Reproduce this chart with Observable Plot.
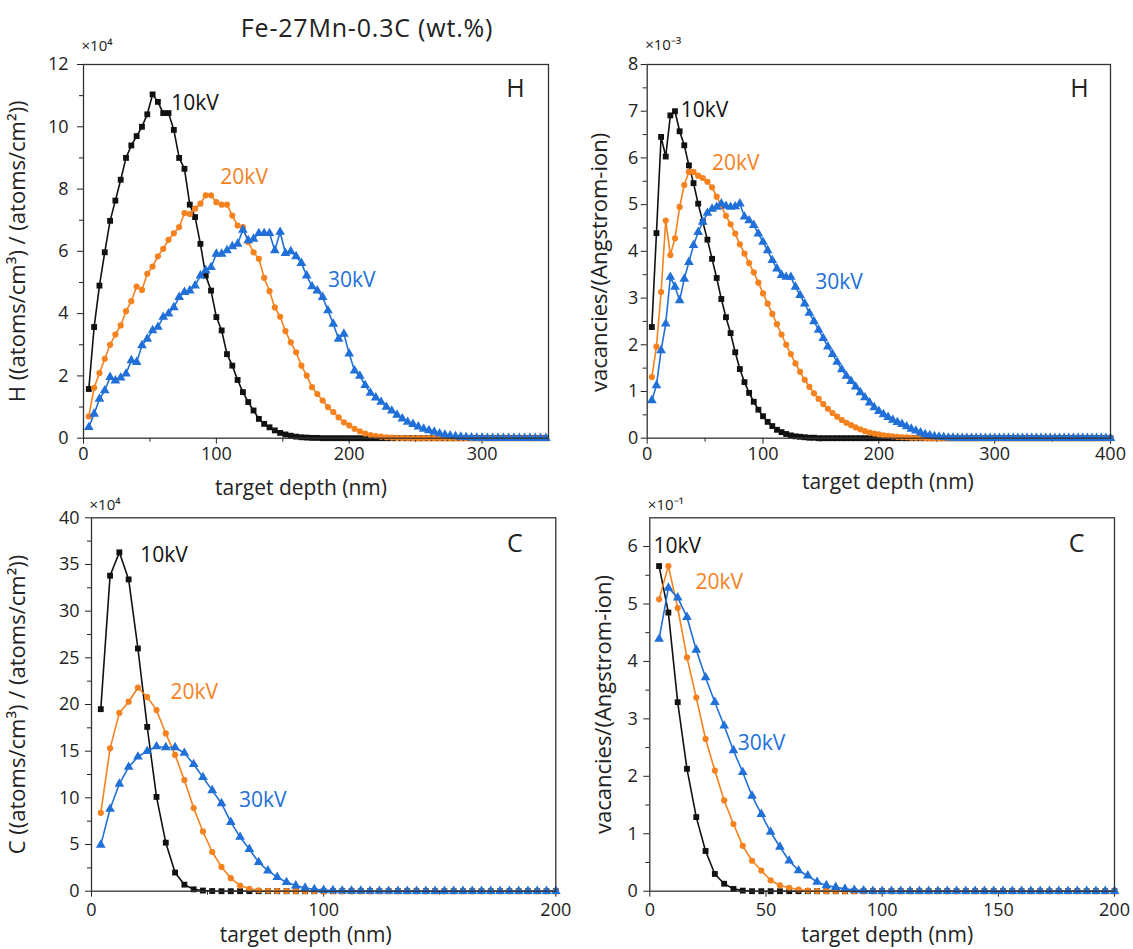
<!DOCTYPE html>
<html><head><meta charset="utf-8">
<script src="https://cdn.jsdelivr.net/npm/d3@7"></script>
<script src="https://cdn.jsdelivr.net/npm/@observablehq/plot@0.6"></script>
<style>
body{margin:0;background:#fff;}
#wrap{position:relative;width:1133px;height:949px;font-family:"Open Sans",sans-serif;overflow:hidden;}
#title{position:absolute;left:0;top:13px;width:734px;text-align:center;font-size:25px;line-height:28px;color:#222;letter-spacing:0.8px;}
.panel{position:absolute;}
</style></head><body>
<div id="wrap"><div id="title">Fe-27Mn-0.3C (wt.%)</div></div>
<script>
// ---- data ----
const seriesNames = ["10kV","20kV","30kV"];
const seriesColors = ["#111111","#f5821f","#2170d8"];
const seriesSymbols = ["square","circle","triangle"];

const depth = [4,8,12,16,20,24,28,32,36,40,44,48,52,56,60,64,68,72,76,80,84,88,92,96,100,
104,108,112,116,120,124,128,132,136,140,144,148,152,156,160,164,168,172,176,180,184,188,192,196,200,
204,208,212,216,220,224,228,232,236,240,244,248,252,256,260,264,268,272,276,280,284,288,292,296,300,
304,308,312,316,320,324,328,332,336,340,344,348,352,356,360,364,368,372,376,380,384,388,392,396,400];

// H implanted concentration (x10^4), depth 4..348 nm
const hConc10 = [1.58,3.57,4.9,5.97,6.98,7.63,8.3,9.0,9.4,9.7,
10.0,10.4,11.04,10.8,10.44,10.44,9.9,9.0,8.65,7.5,
7.1,6.24,5.22,4.74,3.89,3.46,2.7,2.33,1.87,1.48,
1.16,0.89,0.62,0.46,0.35,0.25,0.17,0.12,0.08,0.05,
0.03,0.02,0.01,0.01,0,0,0,0,0,0,
0,0,0,0,0,0,0,0,0,0, 0,0,0,0,0,0,0,0,0,0, 0,0,0,0,0,0,0,0,0,0,
0,0,0,0,0,0,0];
const hConc20 = [0.7,1.62,2.09,2.55,3.0,3.33,3.62,4.08,4.4,4.87,
4.76,5.28,5.51,5.84,6.08,6.37,6.58,6.78,7.23,7.2,
7.37,7.53,7.8,7.8,7.58,7.5,7.5,7.15,6.83,6.78,
6.3,5.97,5.76,5.15,4.72,4.2,3.9,3.44,3.08,2.76,
2.33,2.01,1.64,1.42,1.21,1.0,0.84,0.67,0.51,0.41,
0.3,0.22,0.15,0.1,0.07,0.05,0.03,0.02,0.01,0.01,
0,0,0,0,0,0,0,0,0,0, 0,0,0,0,0,0,0,0,0,0,
0,0,0,0,0,0,0];
const hConc30 = [0.35,0.78,1.26,1.53,1.96,1.85,1.94,2.07,2.5,2.44,
2.98,3.19,3.46,3.57,3.89,4.0,4.2,4.53,4.69,4.74,
4.9,5.22,5.39,5.49,5.92,5.92,6.03,6.16,6.24,6.69,
6.35,6.4,6.58,6.58,6.58,6.03,6.62,5.94,6.0,5.84,
5.62,5.22,4.87,4.74,4.53,4.1,3.67,3.19,3.35,2.71,
2.17,2.0,1.7,1.45,1.3,1.16,1.0,0.88,0.75,0.63,
0.52,0.45,0.37,0.3,0.25,0.2,0.15,0.11,0.08,0.06,
0.04,0.03,0.02,0.01,0.01,0,0,0,0,0,
0,0,0,0,0,0,0];

// H vacancies (x10^-3), depth 4..400 nm
const hVac10 = [2.38,4.39,6.45,6.03,6.91,7.0,6.57,6.27,5.84,5.46,
5.02,4.63,4.25,3.84,3.43,2.98,2.59,2.25,1.84,1.48,
1.2,0.97,0.78,0.61,0.47,0.35,0.26,0.18,0.13,0.09,
0.06,0.04,0.03,0.02,0.01,0.01,0,0,0,0,
0,0,0,0,0,0,0,0,0,0, 0,0,0,0,0,0,0,0,0,0, 0,0,0,0,0,0,0,0,0,0,
0,0,0,0,0,0,0,0,0,0, 0,0,0,0,0,0,0,0,0,0, 0,0,0,0,0,0,0,0,0,0];
const hVac20 = [1.31,1.96,3.13,4.66,3.92,4.28,4.95,5.42,5.7,5.7,
5.62,5.57,5.49,5.37,5.17,4.97,4.76,4.58,4.38,4.15,
3.95,3.75,3.55,3.33,3.1,2.88,2.66,2.44,2.22,2.0,
1.8,1.6,1.42,1.25,1.1,0.96,0.84,0.73,0.63,0.54,
0.46,0.39,0.33,0.28,0.23,0.19,0.15,0.12,0.1,0.08,
0.06,0.05,0.04,0.03,0.02,0.02,0.01,0.01,0.01,0,
0,0,0,0,0,0,0,0,0,0, 0,0,0,0,0,0,0,0,0,0, 0,0,0,0,0,0,0,0,0,0,
0,0,0,0,0,0,0,0,0,0];
const hVac30 = [0.81,1.13,1.88,2.45,3.45,3.24,2.95,3.41,3.77,4.13,
4.41,4.63,4.82,4.91,4.95,5.02,4.97,4.95,4.96,5.02,
4.74,4.66,4.56,4.38,4.2,4.02,3.81,3.63,3.49,3.45,
3.45,3.24,3.06,2.88,2.68,2.5,2.32,2.14,1.96,1.8,
1.63,1.47,1.33,1.22,1.1,0.98,0.87,0.76,0.66,0.58,
0.51,0.45,0.39,0.34,0.3,0.25,0.2,0.16,0.12,0.08,
0.06,0.04,0.03,0.02,0.01,0.01,0,0,0,0,
0,0,0,0,0,0,0,0,0,0, 0,0,0,0,0,0,0,0,0,0, 0,0,0,0,0,0,0,0,0,0];

// C implanted concentration (x10^4), depth 4..200 nm
const cConc10 = [19.5,33.8,36.3,33.4,26.0,17.6,10.1,5.2,2.0,0.7,
0.2,0.07,0.02,0,0,0,0,0,0,0,
0,0,0,0,0,0,0,0,0,0, 0,0,0,0,0,0,0,0,0,0, 0,0,0,0,0,0,0,0,0,0];
const cConc20 = [8.4,15.3,19.1,20.3,21.8,20.8,19.4,16.9,14.6,11.9,
8.9,6.4,4.2,2.6,1.4,0.6,0.25,0.1,0.05,0.02,
0,0,0,0,0,0,0,0,0,0, 0,0,0,0,0,0,0,0,0,0, 0,0,0,0,0,0,0,0,0,0];
const cConc30 = [4.96,8.8,11.5,13.3,14.4,15.0,15.5,15.4,15.4,14.8,
13.6,12.2,10.8,9.4,7.4,5.8,4.5,3.1,2.2,1.5,
0.96,0.6,0.35,0.2,0.12,0.08,0.05,0.04,0.03,0.02,
0.02,0.02,0.01,0.01,0.01,0.01,0.01,0.01,0.01,0.01,
0,0,0,0,0,0,0,0,0,0];

// C vacancies (x10^-1), depth 4..200 nm
const cVac10 = [5.66,4.85,3.29,2.13,1.29,0.7,0.3,0.13,0.04,0.01,
0,0,0,0,0,0,0,0,0,0, 0,0,0,0,0,0,0,0,0,0, 0,0,0,0,0,0,0,0,0,0, 0,0,0,0,0,0,0,0,0,0];
const cVac20 = [5.08,5.66,4.93,4.07,3.37,2.65,2.1,1.58,1.17,0.79,
0.53,0.36,0.19,0.1,0.06,0.03,0.01,0,0,0,
0,0,0,0,0,0,0,0,0,0, 0,0,0,0,0,0,0,0,0,0, 0,0,0,0,0,0,0,0,0,0];
const cVac30 = [4.39,5.28,5.11,4.77,4.2,3.72,3.29,2.88,2.45,2.07,
1.66,1.34,1.03,0.77,0.53,0.36,0.27,0.16,0.1,0.07,
0.04,0.02,0.01,0,0,0,0,0,0,0,
0,0,0,0,0,0,0,0,0,0, 0,0,0,0,0,0,0,0,0,0];

// tick values
const xTicksH1 = [0,100,200,300], xMinorH1 = [50,150,250];
const xTicksH2 = [0,100,200,300,400], xMinorH2 = [50,150,250,350];
const xTicksC1 = [0,100,200], xMinorC1 = [50,150];
const xTicksC2 = [0,50,100,150,200], xMinorC2 = [];
const yTicksH1 = [0,2,4,6,8,10,12], yMinorH1 = [1,3,5,7,9,11];
const yTicksH2 = [0,1,2,3,4,5,6,7,8], yMinorH2 = [0.5,1.5,2.5,3.5,4.5,5.5,6.5,7.5];
const yTicksC1 = [0,5,10,15,20,25,30,35,40], yMinorC1 = [2.5,7.5,12.5,17.5,22.5,27.5,32.5,37.5];
const yTicksC2 = [0,1,2,3,4,5,6], yMinorC2 = [0.5,1.5,2.5,3.5,4.5,5.5];

// text
const titleText = "Fe-27Mn-0.3C (wt.%)";
const xLabel = "target depth (nm)";
const yLabelH = "H ((atoms/cm³) / (atoms/cm²))";
const yLabelC = "C ((atoms/cm³) / (atoms/cm²))";
const yLabelVac = "vacancies/(Angstrom-ion)";

// series label anchor positions (data units)
const labelsH1 = [{t:"10kV",x:66,y:10.75},{t:"20kV",x:103,y:8.38},{t:"30kV",x:184,y:5.07}];
const labelsH2 = [{t:"10kV",x:29,y:7.02},{t:"20kV",x:56,y:5.88},{t:"30kV",x:145,y:3.33}];
const labelsC1 = [{t:"10kV",x:21,y:36},{t:"20kV",x:34,y:21.3},{t:"30kV",x:63.5,y:9.7}];
const labelsC2 = [{t:"10kV",x:1.6,y:6.01},{t:"20kV",x:19.7,y:5.37},{t:"30kV",x:37.8,y:2.57}];

const FONT = "'Open Sans', sans-serif";

function panel(cfg) {
  const marks = [];
  marks.push(Plot.axisX({ticks: cfg.xMinor, tickSize: 4, tickFormat: () => "", label: null}));
  marks.push(Plot.axisX({ticks: cfg.xTicks, tickSize: 6, tickPadding: cfg.xPad, tickFormat: d => String(d), label: null}));
  marks.push(Plot.axisY({ticks: cfg.yMinor, tickSize: 4, tickFormat: () => "", label: null}));
  marks.push(Plot.axisY({ticks: cfg.yTicks, tickSize: 6, tickPadding: cfg.yPad, tickFormat: d => String(d), label: null}));
  cfg.series.forEach((vals, si) => {
    const rows = vals.map((v, i) => ({depth: depth[i], value: v}));
    marks.push(Plot.line(rows, {x: "depth", y: "value", stroke: seriesColors[si], strokeWidth: 1.6}));
    marks.push(Plot.dot(rows, {x: "depth", y: "value", symbol: seriesSymbols[si], fill: seriesColors[si], stroke: "none", r: si === 2 ? 3.6 : (si === 0 ? 3.3 : 3.1)}));
  });
  marks.push(Plot.frame({stroke: "#333", strokeWidth: 1.3}));
  marks.push(Plot.text(cfg.labels, {x: "x", y: "y", text: "t", fill: d => seriesColors[seriesNames.indexOf(d.t)], textAnchor: "start", lineAnchor: "middle", fontSize: 21}));
  marks.push(Plot.text([cfg.letter], {frameAnchor: "top-right", text: d => d, textAnchor: "middle", lineAnchor: "middle", dx: cfg.letterDx, dy: cfg.letterDy, fontSize: 25, fill: "#222"}));
  marks.push(Plot.text([cfg.mult], {frameAnchor: "top-left", text: d => d, textAnchor: "start", lineAnchor: "middle", dx: -2, dy: cfg.multDy, fontSize: 15, fill: "#222"}));
  marks.push(Plot.text([xLabel], {frameAnchor: "bottom", text: d => d, textAnchor: "middle", lineAnchor: "middle", dx: cfg.xlDx, dy: cfg.xlDy, fontSize: 21, fill: "#222"}));
  marks.push(Plot.text([cfg.yLabel], {frameAnchor: "left", text: d => d, rotate: -90, textAnchor: "middle", lineAnchor: "middle", dx: cfg.ylDx, dy: cfg.ylDy, fontSize: 22, fill: "#222"}));

  const chart = Plot.plot({
    width: cfg.width, height: cfg.height,
    marginLeft: cfg.ml, marginRight: cfg.mr, marginTop: cfg.mt, marginBottom: cfg.mb,
    x: {domain: cfg.xDomain},
    y: {domain: cfg.yDomain},
    clip: false,
    style: {fontSize: "18px", fontFamily: FONT, color: "#222", background: "transparent", overflow: "visible"},
    marks
  });
  const div = document.createElement("div");
  div.className = "panel";
  div.style.left = cfg.left + "px";
  div.style.top = cfg.top + "px";
  div.appendChild(chart);
  document.getElementById("wrap").appendChild(div);
}

// top-left: H concentration
panel({left: 0, top: 0, width: 568, height: 508, ml: 83, mr: 20, mt: 64, mb: 70.3,
  xDomain: [0, 350], yDomain: [0, 12], xTicks: xTicksH1, xMinor: xMinorH1, yTicks: yTicksH1, yMinor: yMinorH1,
  xPad: 3, yPad: 9, series: [hConc10, hConc20, hConc30], labels: labelsH1,
  letter: "H", letterDx: -33, letterDy: 24, mult: "×10⁴", multDy: -18,
  xlDx: -15, xlDy: 50, yLabel: yLabelH, ylDx: -66, ylDy: 0});

// top-right: H vacancies
panel({left: 570, top: 0, width: 563, height: 508, ml: 76.7, mr: 23, mt: 64, mb: 70.3,
  xDomain: [0, 400], yDomain: [0, 8], xTicks: xTicksH2, xMinor: xMinorH2, yTicks: yTicksH2, yMinor: yMinorH2,
  xPad: 3, yPad: 3, series: [hVac10, hVac20, hVac30], labels: labelsH2,
  letter: "H", letterDx: -31, letterDy: 24, mult: "×10⁻³", multDy: -19,
  xlDx: 9, xlDy: 44, yLabel: yLabelVac, ylDx: -47, ylDy: 11});

// bottom-left: C concentration
panel({left: 0, top: 490, width: 570, height: 459, ml: 91, mr: 14.7, mt: 27.3, mb: 58.3,
  xDomain: [0, 200], yDomain: [0, 40], xTicks: xTicksC1, xMinor: xMinorC1, yTicks: yTicksC1, yMinor: yMinorC1,
  xPad: 6, yPad: 6, series: [cConc10, cConc20, cConc30], labels: labelsC1,
  letter: "C", letterDx: -41, letterDy: 26, mult: "×10⁴", multDy: -13,
  xlDx: -18, xlDy: 44, yLabel: yLabelC, ylDx: -74, ylDy: 0});

// bottom-right: C vacancies
panel({left: 570, top: 490, width: 563, height: 459, ml: 79.3, mr: 19, mt: 27.3, mb: 58.3,
  xDomain: [0, 200], yDomain: [0, 6.5], xTicks: xTicksC2, xMinor: xMinorC2, yTicks: yTicksC2, yMinor: yMinorC2,
  xPad: 6, yPad: 6, series: [cVac10, cVac20, cVac30], labels: labelsC2,
  letter: "C", letterDx: -38, letterDy: 26, mult: "×10⁻¹", multDy: -13,
  xlDx: 5, xlDy: 44, yLabel: yLabelVac, ylDx: -46, ylDy: 0});

document.getElementById("title").textContent = titleText;
</script>
</body></html>
